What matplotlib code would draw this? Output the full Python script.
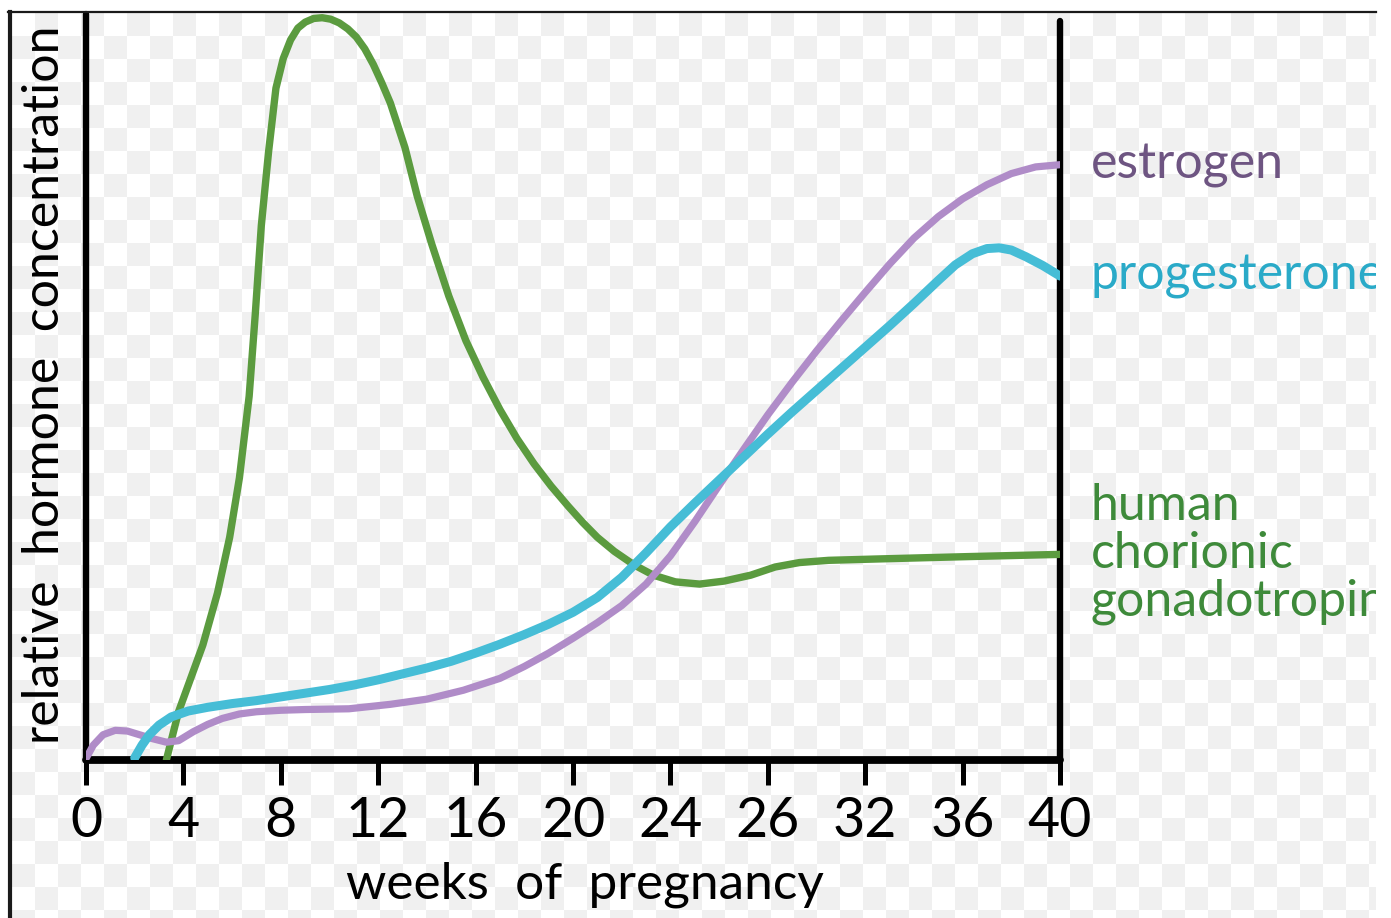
import numpy as np
import matplotlib
matplotlib.use("Agg")
import matplotlib.pyplot as plt
from matplotlib.lines import Line2D

# ---------------- data ----------------
tick_positions = [0, 4, 8, 12, 16, 20, 24, 28, 32, 36, 40]
tick_labels = ["0", "4", "8", "12", "16", "20", "24", "26", "32", "36", "40"]

estrogen_weeks = [0, 0.3, 0.7, 1.2, 1.7, 2.2, 2.7, 3.3, 3.8, 4.4, 5.0, 5.6, 6.3, 7.0,
                  8.0, 9.0, 10.8, 12.5, 14, 15.5, 17, 18, 19, 20, 21, 22, 23, 24, 25,
                  26, 27, 28, 29, 30, 31, 32, 33, 34, 35, 36, 37, 38, 39, 40]
estrogen_vals = [0.2, 2.0, 3.4, 4.0, 3.9, 3.4, 2.9, 2.4, 2.6, 3.8, 4.8, 5.6, 6.2, 6.5,
                 6.7, 6.8, 6.9, 7.5, 8.2, 9.4, 11.0, 12.6, 14.4, 16.4, 18.5, 20.8, 23.7,
                 27.5, 32.1, 37.0, 41.8, 46.5, 50.9, 55.1, 59.1, 63.0, 66.8, 70.3, 73.2,
                 75.6, 77.5, 79.0, 79.9, 80.2]

progesterone_weeks = [2.0, 2.3, 2.6, 3.0, 3.5, 4.2, 5, 6, 7, 8, 9, 10, 11, 12, 13, 14,
                      15, 16, 17, 18, 19, 20, 21, 22, 23, 24, 25, 26, 27, 28, 29, 30,
                      31, 32, 33, 34, 35, 35.7, 36.4, 37, 37.5, 38, 38.6, 39.3, 40]
progesterone_vals = [0.3, 2.0, 3.4, 4.7, 5.8, 6.6, 7.1, 7.6, 8.0, 8.5, 9.0, 9.5, 10.1,
                     10.8, 11.6, 12.4, 13.3, 14.4, 15.6, 16.9, 18.3, 19.9, 21.9, 24.6,
                     27.9, 31.4, 34.6, 37.7, 40.8, 43.9, 46.9, 49.8, 52.7, 55.6, 58.5,
                     61.5, 64.6, 66.7, 68.2, 68.9, 69.0, 68.7, 67.8, 66.6, 65.2]

hcg_weeks = [3.3, 3.8, 4.3, 4.8, 5.4, 5.9, 6.3, 6.7, 6.95, 7.2, 7.5, 7.8, 8.1, 8.4, 8.7,
             9.0, 9.35, 9.7, 10.05, 10.4, 10.75, 11.1, 11.45, 11.8, 12.15, 12.5, 13.1,
             13.6, 14.2, 14.9, 15.6, 16.3, 17.0, 17.7, 18.4, 19.1, 19.8, 20.4, 21.0,
             21.7, 22.5, 23.3, 24.2, 25.2, 26.2, 27.3, 28.3, 29.3, 30.5, 32.7, 36.2, 40.0]
hcg_vals = [0, 6.5, 11, 15.5, 22.5, 30, 38, 49, 60, 72, 82, 90.5, 94.5, 97, 98.6, 99.4,
            99.9, 100, 99.8, 99.3, 98.5, 97.4, 95.8, 93.7, 91.2, 88.5, 82.5, 76, 69.5,
            62.5, 56.5, 51.6, 47.2, 43.3, 39.9, 36.9, 34.2, 32.0, 30.0, 28.1, 26.3,
            24.9, 24.0, 23.7, 24.1, 24.9, 26.0, 26.6, 26.9, 27.1, 27.4, 27.7]

series_names = ["estrogen", "progesterone", "human\nchorionic\ngonadotropin"]

# ---------------- styling ----------------
W, H = 1391, 918
GREEN, PURPLE, CYAN = "#5b9b3f", "#b08cc8", "#46bdd6"
GREEN_T, PURPLE_T, CYAN_T = "#3e8a3a", "#6e5582", "#2aaac8"
FONT = ["Lato", "DejaVu Sans"]
plt.rcParams["font.family"] = FONT

fig = plt.figure(figsize=(W / 100, H / 100), dpi=100)
fig.patch.set_facecolor("white")

# checkerboard backdrop (transparency pattern of the source image)
bg = fig.add_axes([12 / W, 0, (1376 - 12) / W, (H - 13) / H], zorder=-5)
sq = 23
ny, nx = int(np.ceil((H - 13) / sq)), int(np.ceil((1376 - 12) / sq))
checker = (np.indices((ny, nx)).sum(axis=0) % 2).astype(float)
bg.imshow(checker, cmap=matplotlib.colors.ListedColormap(["#ffffff", "#f0f0f0"]),
          aspect="auto", interpolation="nearest",
          extent=[0, nx * sq, ny * sq, 0])
bg.set_xlim(0, 1376 - 12)
bg.set_ylim(H - 13, 0)
bg.axis("off")

# frame lines of the screenshot
fig.add_artist(Line2D([8 / W, 1376 / W], [1 - 12 / H, 1 - 12 / H],
                      transform=fig.transFigure, color="#1a1a1a", lw=1.6))
fig.add_artist(Line2D([10 / W, 10 / W], [0, 1 - 12 / H],
                      transform=fig.transFigure, color="#1a1a1a", lw=3))

# main axes
ax = fig.add_axes([86 / W, 158 / H, 974 / W, 746 / H])
ax.set_facecolor("none")
ax.set_xlim(0, 40)
ax.set_ylim(0, 100.5)

lw_kw = dict(solid_capstyle="round", solid_joinstyle="round")
ax.plot(hcg_weeks, hcg_vals, color=GREEN, lw=5.3, zorder=3, **lw_kw)
ax.plot(estrogen_weeks, estrogen_vals, color=PURPLE, lw=5.2, zorder=4, **lw_kw)
ax.plot(progesterone_weeks, progesterone_vals, color=CYAN, lw=6.5, zorder=5, **lw_kw)

for side, lw in [("left", 4.6), ("bottom", 5.6), ("right", 4.6)]:
    ax.spines[side].set_linewidth(lw)
    ax.spines[side].set_color("black")
    ax.spines[side].set_capstyle("round")
ax.spines["top"].set_visible(False)
ax.spines["right"].set_bounds(0, 99.5)

ax.set_xticks(tick_positions)
ax.set_xticklabels(tick_labels, fontsize=40, family=FONT)
ax.tick_params(axis="x", direction="out", length=18, width=3.6, pad=8, color="black")
ax.set_yticks([])

ax.set_xlabel("weeks  of  pregnancy", fontsize=37, family=FONT, va="center")
ax.xaxis.set_label_coords((585 - 86) / 974, (760 - 885) / 746)
ax.set_ylabel("relative  hormone  concentration", fontsize=36, family=FONT, va="center")
ax.yaxis.set_label_coords((45 - 86) / 974, (760 - 385) / 746)

# right-hand labels, aligned with the line ends, clipped at the image edge
label_x = 41.25
for name, yv, col in [(series_names[0], estrogen_vals[-1], PURPLE_T),
                      (series_names[1], progesterone_vals[-1], CYAN_T),
                      (series_names[2], hcg_vals[-1], GREEN_T)]:
    bg.text(label_x, yv, name, transform=ax.transData, color=col, fontsize=36,
            family=FONT, ha="left", va="center", linespacing=1.05, clip_on=True)

fig.savefig("out.png", dpi=100)
